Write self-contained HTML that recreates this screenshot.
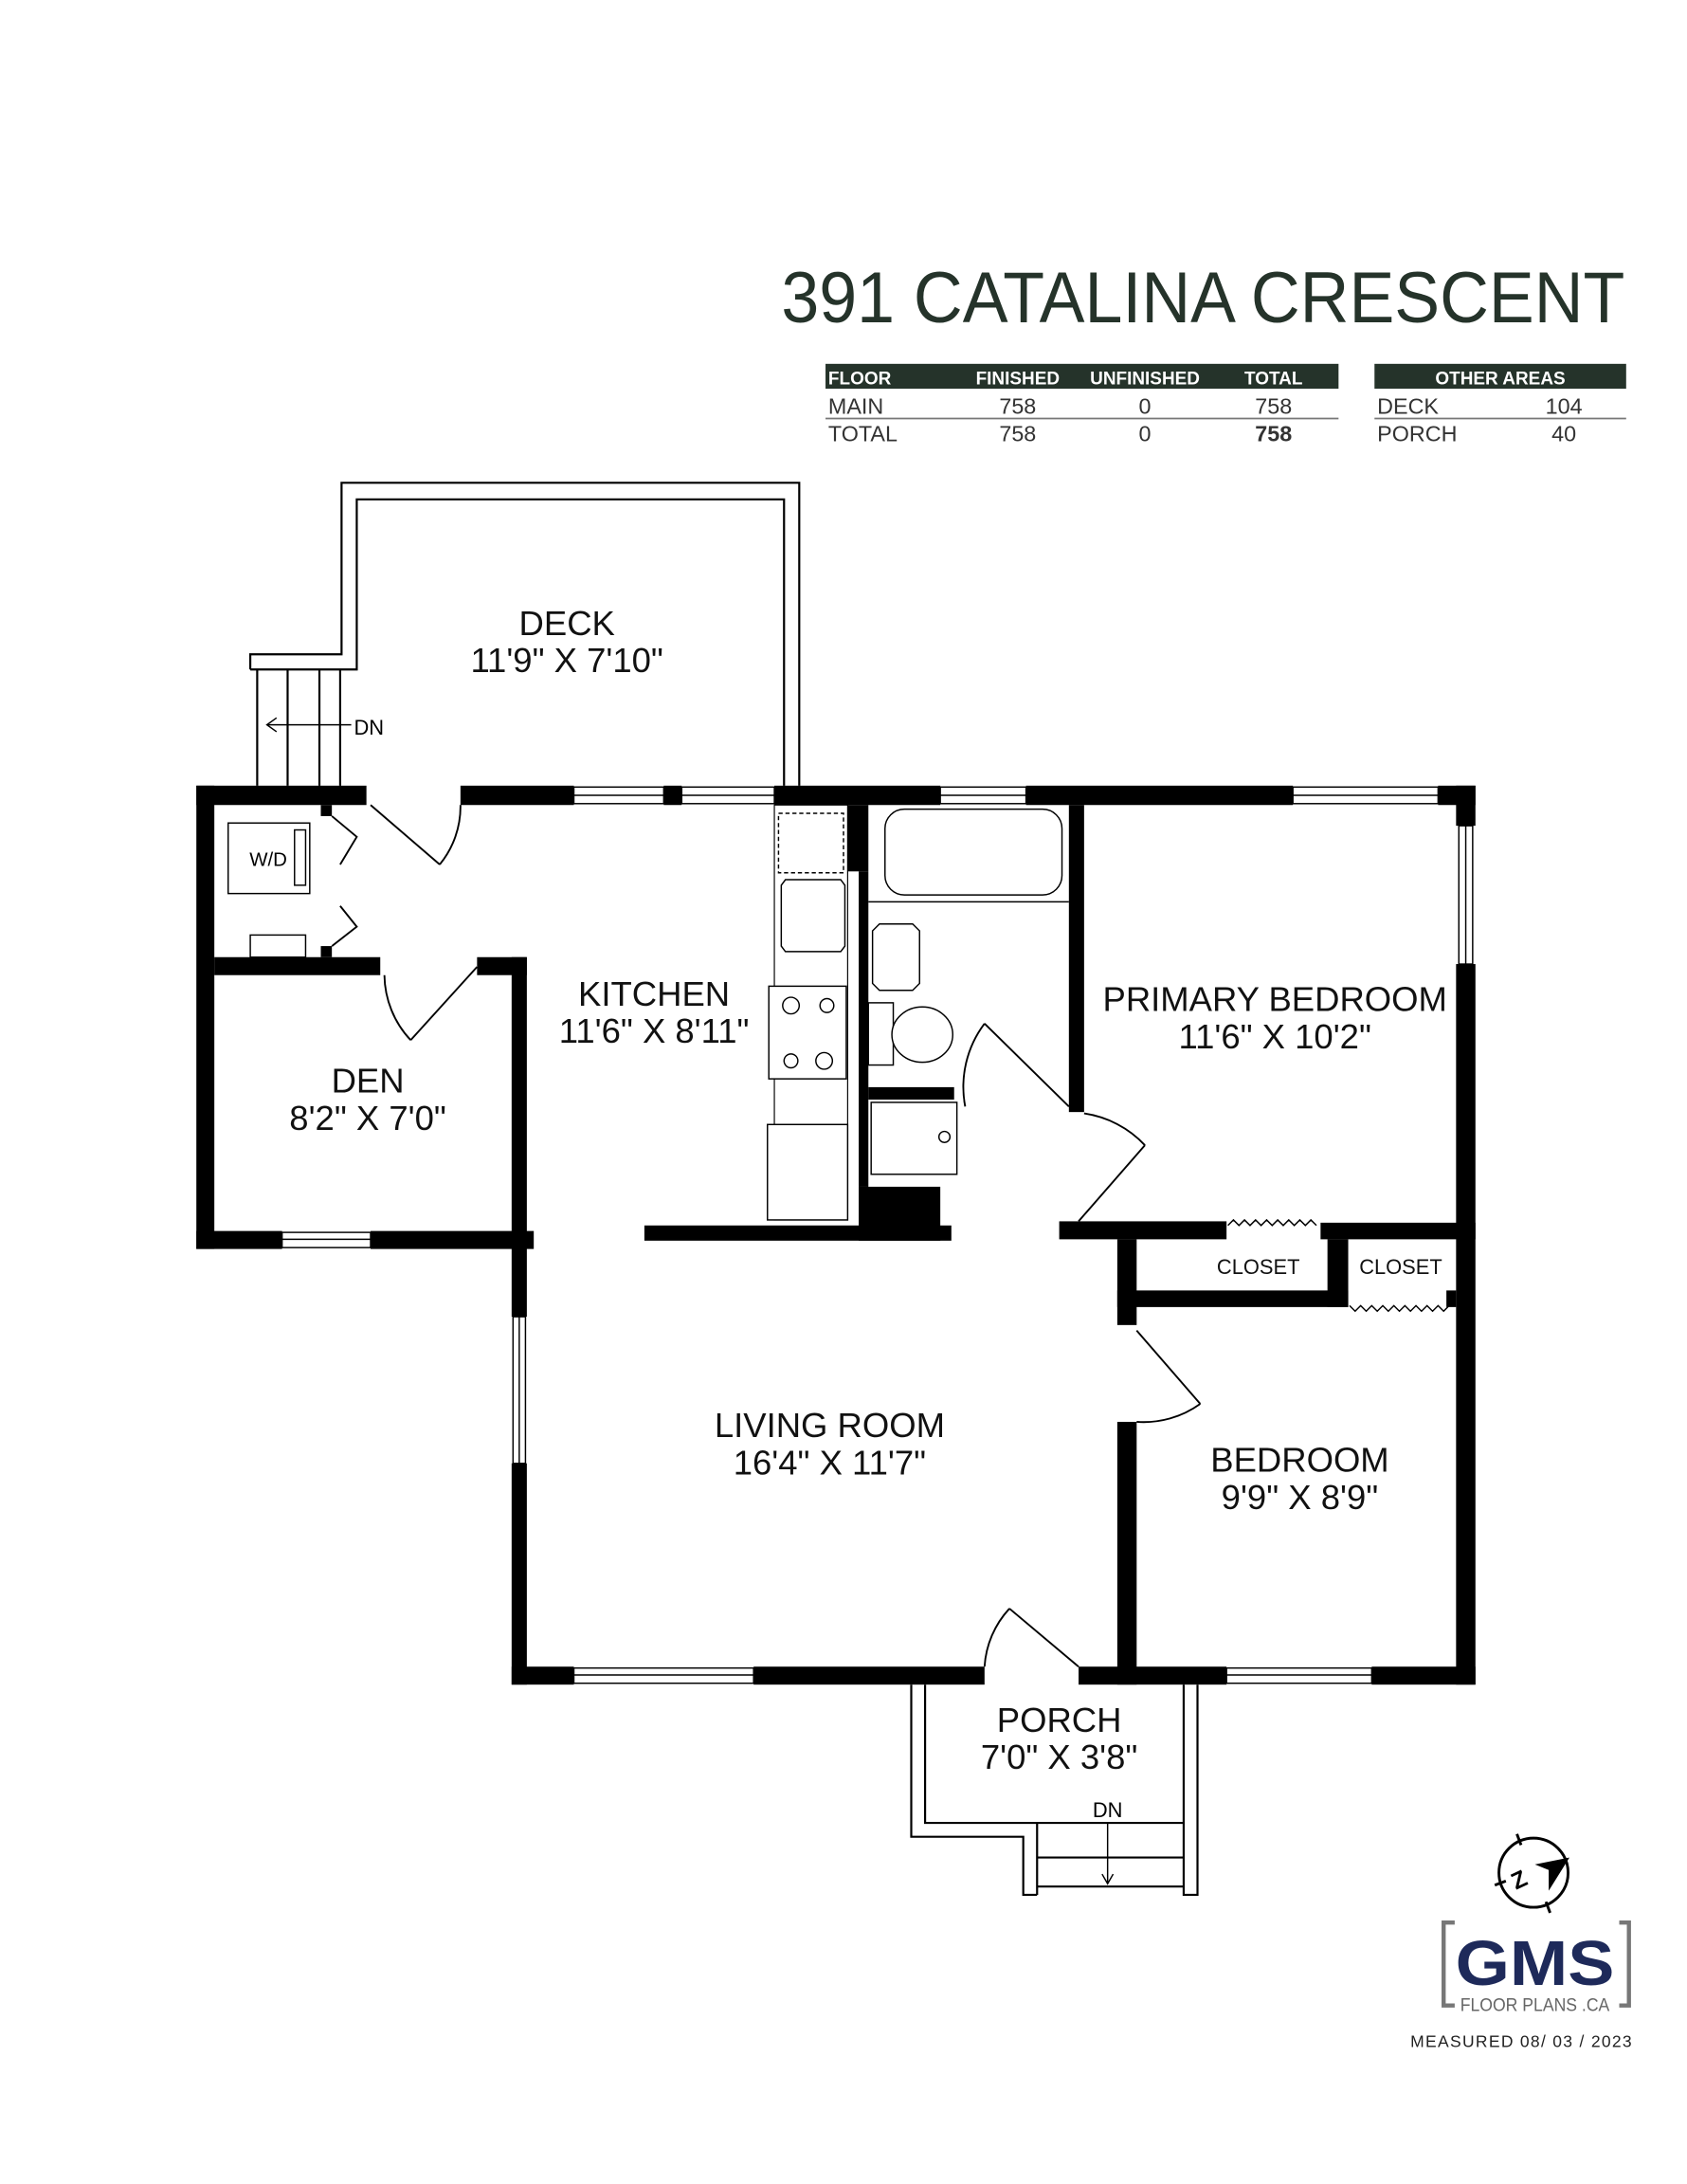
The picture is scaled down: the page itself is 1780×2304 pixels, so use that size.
<!DOCTYPE html>
<html><head><meta charset="utf-8"><style>
html,body{margin:0;padding:0;background:#fff}
svg{display:block}
text{font-family:"Liberation Sans Narrow","Liberation Sans",sans-serif}
</style></head><body>
<svg width="1780" height="2304" viewBox="0 0 1220 1579" xmlns="http://www.w3.org/2000/svg">
<rect width="1220" height="1579" fill="#fff"/>
<!-- Title -->
<text x="565" y="233" font-size="52" fill="#25332a" textLength="610" lengthAdjust="spacingAndGlyphs" style="font-family:'Liberation Sans',sans-serif">391 CATALINA CRESCENT</text>
<!-- table 1 -->
<rect x="597" y="263" width="371" height="18" fill="#25332a"/>
<g fill="#fff" font-size="13" font-weight="bold">
<text x="599" y="278">FLOOR</text>
<text x="736" y="278" text-anchor="middle">FINISHED</text>
<text x="828" y="278" text-anchor="middle">UNFINISHED</text>
<text x="921" y="278" text-anchor="middle">TOTAL</text>
</g>
<g fill="#333" font-size="16">
<text x="599" y="299">MAIN</text>
<text x="736" y="299" text-anchor="middle">758</text>
<text x="828" y="299" text-anchor="middle">0</text>
<text x="921" y="299" text-anchor="middle">758</text>
<text x="599" y="319">TOTAL</text>
<text x="736" y="319" text-anchor="middle">758</text>
<text x="828" y="319" text-anchor="middle">0</text>
<text x="921" y="319" text-anchor="middle" font-weight="bold">758</text>
</g>
<line x1="597" y1="302.5" x2="968" y2="302.5" stroke="#777" stroke-width="1.2"/>
<rect x="994" y="263" width="182" height="18" fill="#25332a"/>
<text x="1085" y="278" text-anchor="middle" fill="#fff" font-size="13" font-weight="bold">OTHER AREAS</text>
<g fill="#333" font-size="16">
<text x="996" y="299">DECK</text>
<text x="1131" y="299" text-anchor="middle">104</text>
<text x="996" y="319">PORCH</text>
<text x="1131" y="319" text-anchor="middle">40</text>
</g>
<line x1="994" y1="302.5" x2="1176" y2="302.5" stroke="#777" stroke-width="1.2"/>

<!-- Deck -->
<g fill="none" stroke="#000" stroke-width="1.5">
<polyline points="181,484 181,473 247,473 247,349 578,349 578,568"/>
<polyline points="181,484 258,484 258,361 567,361 567,568"/>
<line x1="186" y1="484" x2="186" y2="568"/>
<line x1="208" y1="484" x2="208" y2="568"/>
<line x1="231" y1="484" x2="231" y2="568"/>
<line x1="246" y1="484" x2="246" y2="568"/>
<line x1="193" y1="524" x2="254" y2="524" stroke-width="1"/>
<polyline points="200,519 193,524 200,529" stroke-width="1"/>
</g>
<text x="256" y="531" font-size="15">DN</text>

<!-- Walls -->
<g fill="#000">
<!-- top -->
<rect x="142" y="568" width="123" height="14"/>
<rect x="333" y="568" width="82" height="14"/>
<rect x="480" y="568" width="13" height="14"/>
<rect x="560" y="568" width="120" height="14"/>
<rect x="742" y="568" width="193" height="14"/>
<rect x="1040" y="568" width="27" height="14"/>
<!-- left outer -->
<rect x="142" y="568" width="13" height="335"/>
<!-- laundry/den wall -->
<rect x="155" y="692" width="120" height="13"/>
<rect x="345" y="692" width="36" height="13"/>
<rect x="370" y="692" width="11" height="211"/>
<rect x="232" y="582" width="8" height="8"/>
<rect x="232" y="684" width="8" height="8"/>
<!-- den bottom -->
<rect x="142" y="890" width="62" height="13"/>
<rect x="268" y="890" width="118" height="13"/>
<!-- living left -->
<rect x="370" y="890" width="11" height="62"/>
<rect x="370" y="1058" width="11" height="160"/>
<!-- bottom -->
<rect x="370" y="1205" width="45" height="13"/>
<rect x="545" y="1205" width="167" height="13"/>
<rect x="780" y="1205" width="107" height="13"/>
<rect x="992" y="1205" width="75" height="13"/>
<!-- right -->
<rect x="1053" y="568" width="14" height="29"/>
<rect x="1053" y="697" width="14" height="521"/>
<!-- kitchen/bath -->
<rect x="613" y="582" width="15" height="48"/>
<rect x="621" y="630" width="7" height="228"/>
<rect x="621" y="858" width="59" height="39"/>
<rect x="466" y="886" width="222" height="11"/>
<!-- bath interior -->
<rect x="628" y="786" width="62" height="9"/>
<!-- primary left -->
<rect x="773" y="582" width="11" height="222"/>
<rect x="766" y="883" width="121" height="13"/>
<rect x="955" y="884" width="112" height="12"/>
<!-- closets -->
<rect x="808" y="896" width="14" height="62"/>
<rect x="808" y="933" width="167" height="12"/>
<rect x="960" y="896" width="15" height="49"/>
<rect x="1046" y="933" width="7" height="12"/>
<rect x="808" y="1028" width="14" height="190"/>
</g>
<!-- windows -->
<g fill="#fff" stroke="#000" stroke-width="1">
<rect x="415" y="569" width="65" height="12"/><line x1="415" y1="575" x2="480" y2="575"/>
<rect x="493" y="569" width="67" height="12"/><line x1="493" y1="575" x2="560" y2="575"/>
<rect x="680" y="569" width="62" height="12"/><line x1="680" y1="575" x2="742" y2="575"/>
<rect x="935" y="569" width="105" height="12"/><line x1="935" y1="575" x2="1040" y2="575"/>
<rect x="1055" y="597" width="10" height="100"/><line x1="1060" y1="597" x2="1060" y2="697"/>
<rect x="204" y="891" width="64" height="11"/><line x1="204" y1="896" x2="268" y2="896"/>
<rect x="371" y="952" width="9" height="106"/><line x1="375.5" y1="952" x2="375.5" y2="1058"/>
<rect x="415" y="1206" width="130" height="11"/><line x1="415" y1="1211" x2="545" y2="1211"/>
<rect x="887" y="1206" width="105" height="11"/><line x1="887" y1="1211" x2="992" y2="1211"/>
</g>

<!-- doors -->
<g fill="none" stroke="#000" stroke-width="1.3">
<line x1="268" y1="582" x2="318" y2="625"/><path d="M318,625 A66,66 0 0 0 333,582"/>
<line x1="345" y1="699" x2="297" y2="752"/><path d="M297,752 A70,70 0 0 1 278,705"/>
<polyline points="240,590 258,605 246,625"/>
<polyline points="240,684 258,670 246,655"/>
<line x1="773" y1="800" x2="712" y2="740"/><path d="M712,740 A76,76 0 0 0 698,800"/>
<line x1="780" y1="883" x2="828" y2="828"/><path d="M828,828 A75,75 0 0 0 784,805"/>
<line x1="822" y1="962" x2="868" y2="1015"/><path d="M868,1015 A70,70 0 0 1 822,1028"/>
<line x1="780" y1="1205" x2="730" y2="1163"/><path d="M730,1163 A68,68 0 0 0 712,1205"/>
<path d="M888,886 l4,-4 l4,4 l4,-4 l4,4 l4,-4 l4,4 l4,-4 l4,4 l4,-4 l4,4 l4,-4 l4,4 l4,-4 l4,4 l4,-4 l4,4" stroke-width="1"/>
<path d="M976,944 l4,4 l4,-4 l4,4 l4,-4 l4,4 l4,-4 l4,4 l4,-4 l4,4 l4,-4 l4,4 l4,-4 l4,4 l4,-4 l4,4 l4,-4 l4,4 l4,-4" stroke-width="1"/>
</g>

<!-- porch -->
<g fill="none" stroke="#000" stroke-width="1.5">
<polyline points="659,1218 659,1328 740,1328 740,1370 750,1370"/>
<polyline points="669,1218 669,1318 750,1318 750,1370"/>
<polyline points="856,1218 856,1370 866,1370 866,1218"/>
<line x1="750" y1="1318" x2="856" y2="1318"/>
<line x1="750" y1="1343" x2="856" y2="1343"/>
<line x1="750" y1="1364" x2="856" y2="1364"/>
<line x1="801" y1="1318" x2="801" y2="1362" stroke-width="1"/>
<polyline points="797,1355 801,1362 805,1355" stroke-width="1"/>
</g>
<text x="801" y="1314" font-size="15" text-anchor="middle">DN</text>

<!-- fixtures -->
<g fill="#fff" stroke="#000" stroke-width="1">
<rect x="165" y="595" width="59" height="51"/>
<rect x="213" y="600" width="8" height="40"/>
<rect x="181" y="676" width="40" height="16"/>
<rect x="560" y="582" width="53" height="300" stroke-width="0.8"/>
<rect x="563" y="588" width="47" height="43" stroke-dasharray="3,2"/>
<path d="M568,636 h40 l3,4 v44 l-3,4 h-40 l-3,-4 v-44z"/>
<rect x="556" y="713" width="56" height="67"/>
<circle cx="572" cy="727" r="6"/><circle cx="598" cy="727" r="5"/>
<circle cx="572" cy="767" r="5"/><circle cx="596" cy="767" r="6"/>
<rect x="555" y="813" width="58" height="69"/>
<rect x="640" y="585" width="128" height="62" rx="14"/>
<line x1="628" y1="652" x2="773" y2="652"/>
<path d="M636,668 h24 l5,5 v38 l-5,5 h-24 l-5,-5 v-38z"/>
<rect x="628" y="725" width="18" height="45"/>
<ellipse cx="667" cy="748" rx="22" ry="20"/>
<rect x="630" y="797" width="62" height="52"/>
<circle cx="683" cy="822" r="4"/>
</g>
<text x="194" y="626" font-size="14" text-anchor="middle">W/D</text>

<!-- labels -->
<g font-size="25" text-anchor="middle" fill="#111">
<text x="410" y="459">DECK</text>
<text x="410" y="486">11'9" X 7'10"</text>
<text x="473" y="727">KITCHEN</text>
<text x="473" y="754">11'6" X 8'11"</text>
<text x="266" y="790">DEN</text>
<text x="266" y="817">8'2" X 7'0"</text>
<text x="922" y="731">PRIMARY BEDROOM</text>
<text x="922" y="758">11'6" X 10'2"</text>
<text x="600" y="1039">LIVING ROOM</text>
<text x="600" y="1066">16'4" X 11'7"</text>
<text x="940" y="1064">BEDROOM</text>
<text x="940" y="1091">9'9" X 8'9"</text>
<text x="766" y="1252">PORCH</text>
<text x="766" y="1279">7'0" X 3'8"</text>
</g>
<g font-size="15" text-anchor="middle" fill="#111">
<text x="910" y="921">CLOSET</text>
<text x="1013" y="921">CLOSET</text>
</g>

<!-- logo -->
<g fill="none" stroke="#000" stroke-width="2">
<circle cx="1109" cy="1354" r="25"/>
<line x1="1097" y1="1326" x2="1100" y2="1334"/>
<line x1="1081" y1="1363" x2="1089" y2="1360"/>
<line x1="1118" y1="1375" x2="1121" y2="1383"/>
</g>
<path d="M1110,1348 L1135,1343 L1120,1367 L1120,1352z" fill="#000"/>
<text x="1098" y="1365" font-size="17" font-weight="bold" transform="rotate(-25 1098 1358)" text-anchor="middle">Z</text>
<path d="M1052,1390 h-8 v60 h8 M1171,1390 h7 v60 h-7" fill="none" stroke="#777" stroke-width="3"/>
<text x="1110" y="1435" font-size="46" font-weight="bold" fill="#1e2a5a" text-anchor="middle" textLength="115" lengthAdjust="spacingAndGlyphs" style="font-family:'Liberation Sans',sans-serif">GMS</text>
<text x="1110" y="1454" font-size="13" fill="#666" text-anchor="middle" textLength="108" lengthAdjust="spacingAndGlyphs" style="font-family:'Liberation Sans',sans-serif">FLOOR PLANS .CA</text>
<text x="1100" y="1480" font-size="12" fill="#222" text-anchor="middle" textLength="160" lengthAdjust="spacing" style="font-family:'Liberation Sans',sans-serif">MEASURED    08/ 03 / 2023</text>
</svg>
</body></html>
